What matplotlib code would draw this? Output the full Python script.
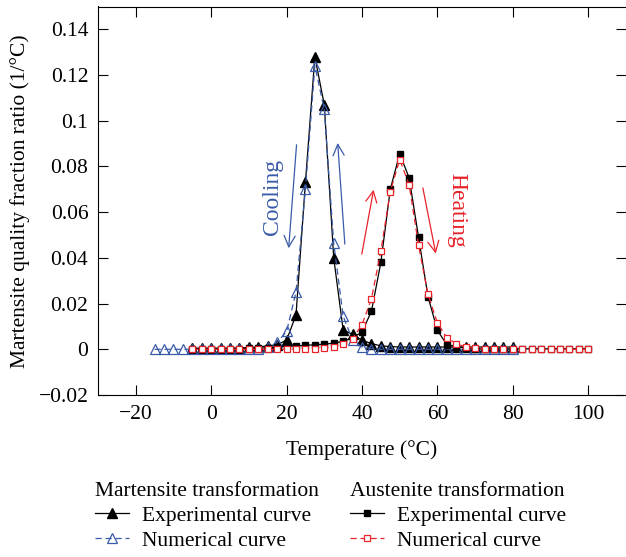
import numpy as np
import matplotlib
matplotlib.use('Agg')
from matplotlib import pyplot as plt
from matplotlib.ticker import FuncFormatter

plt.rcParams['font.family'] = ['Liberation Serif', 'DejaVu Serif']
plt.rcParams['font.size'] = 15.5
plt.rcParams['axes.unicode_minus'] = True

# temperature grids (deg C)
T_mart_num = np.arange(-15, 80.1, 2.5)
T_mart_exp = np.arange(-5, 80.1, 2.5)
T_aust = np.arange(-5, 100.1, 2.5)

# martensite transformation (cooling)
mart_num = [0, 0, 0, 0, 0, 0, 0, 0, 0, 0, 0, 0.0002, 0.0008, 0.003, 0.0078,
            0.025, 0.070, 0.124, 0.105, 0.0465, 0.0145, 0.004, 0.001, 0.0003,
            0, 0, 0, 0, 0, 0, 0, 0, 0, 0, 0, 0, 0, 0, 0]
mart_exp = [0.0005, 0.0005, 0.0005, 0.0005, 0.0005, 0.0006, 0.0008, 0.001,
            0.0015, 0.002, 0.004, 0.015, 0.073, 0.128, 0.107, 0.040, 0.0085,
            0.0065, 0.004, 0.0025, 0.0015, 0.0012, 0.001, 0.001, 0.001, 0.001,
            0.001, 0.001, 0.001, 0.001, 0.001, 0.001, 0.001, 0.001, 0.001]

# austenite transformation (heating)
aust_num = [0, 0, 0, 0, 0, 0, 0, 0, 0, 0, 0, 0, 0, 0, 0.0005, 0.001, 0.0025,
            0.0047, 0.0108, 0.022, 0.043, 0.069, 0.083, 0.072, 0.0455, 0.024,
            0.0115, 0.005, 0.0025, 0.001, 0.0004, 0, 0, 0, 0, 0, 0, 0, 0, 0,
            0, 0, 0]
aust_exp = [0.0002, 0.0002, 0.0002, 0.0002, 0.0002, 0.0003, 0.0004, 0.0005,
            0.0007, 0.001, 0.0013, 0.0015, 0.0017, 0.002, 0.0022, 0.0027,
            0.0035, 0.005, 0.0076, 0.0166, 0.038, 0.070, 0.0856, 0.075, 0.049,
            0.023, 0.0083, 0.002, 0.0012, 0.0006, 0.0003, 0.0002, 0.0002,
            0.0002, 0.0002, 0.0002, 0.0002, 0.0002, 0.0002, 0.0002, 0.0002,
            0.0002, 0.0002]

blue = '#3a5ba8'
red = '#e8232a'

fig = plt.figure(figsize=(6.26, 5.57), dpi=100)
ax = fig.add_axes([98/626, 1-395/557, 528/626, 388.5/557])

l_me, = ax.plot(T_mart_exp, mart_exp, '-', color='k', lw=0.9, marker='^',
                ms=6.5, mfc='k', mec='k', zorder=3)
l_mn, = ax.plot(T_mart_num, mart_num, '--', color=blue, lw=0.9, marker='^',
                ms=6.5, mfc='none', mec=blue, mew=0.9, dashes=(5, 3), zorder=4)
l_ae, = ax.plot(T_aust, aust_exp, '-', color='k', lw=0.9, marker='s',
                ms=5, mfc='k', mec='k', zorder=5)
l_an, = ax.plot(T_aust, aust_num, '--', color=red, lw=0.9, marker='s',
                ms=5, mfc='white', mec=red, mew=0.9, dashes=(5, 3), zorder=6)

ax.set_xlim(-30, 110)
ax.set_ylim(-0.02, 0.15)
ax.set_xticks([-20, 0, 20, 40, 60, 80, 100])
ax.set_yticks([-0.02, 0, 0.02, 0.04, 0.06, 0.08, 0.1, 0.12, 0.14])
ax.yaxis.set_major_formatter(FuncFormatter(lambda v, p: ('%g' % round(v, 3)).replace('-', '\u2212')))
ax.xaxis.set_major_formatter(FuncFormatter(lambda v, p: ('%g' % v).replace('-', '\u2212')))
ax.tick_params(direction='in', top=True, right=True, length=7, width=0.8, pad=7)
ax.spines['right'].set_visible(False)
for s in ['left', 'bottom', 'top']:
    ax.spines[s].set_linewidth(0.8)

ax.set_xlabel('Temperature (\u00b0C)', labelpad=12)
ax.set_ylabel('Martensite quality fraction ratio (1/\u00b0C)', labelpad=6)

# cooling / heating arrows
arr = dict(arrowstyle='->', lw=0.9, mutation_scale=20)
ax.annotate('', xy=(20.5, 0.043), xytext=(22.7, 0.0907), arrowprops=dict(arr, color=blue))
ax.annotate('', xy=(33.5, 0.0915), xytext=(35.5, 0.0448), arrowprops=dict(arr, color=blue))
ax.annotate('', xy=(43.2, 0.071), xytext=(39.8, 0.0404), arrowprops=dict(arr, color=red))
ax.annotate('', xy=(59.7, 0.0407), xytext=(56.0, 0.0718), arrowprops=dict(arr, color=red))
ax.text(16.2, 0.0665, 'Cooling', color=blue, rotation=90, ha='center', va='center', fontsize=17)
ax.text(65.2, 0.0608, 'Heating', color=red, rotation=-90, ha='center', va='center', fontsize=17)

leg_kw = dict(loc='upper left', frameon=False, alignment='left', borderpad=0,
              borderaxespad=0, handlelength=1.6, handletextpad=0.6,
              labelspacing=0.22, numpoints=1, fontsize=15.5, title_fontsize=15.5)
fig.legend(handles=[l_me, l_mn], labels=['Experimental curve', 'Numerical curve'],
           title='Martensite transformation', bbox_to_anchor=(95/626, 1-482/557), **leg_kw)
fig.legend(handles=[l_ae, l_an], labels=['Experimental curve', 'Numerical curve'],
           title='Austenite transformation', bbox_to_anchor=(350/626, 1-482/557), **leg_kw)

fig.savefig('out.png', dpi=100)
